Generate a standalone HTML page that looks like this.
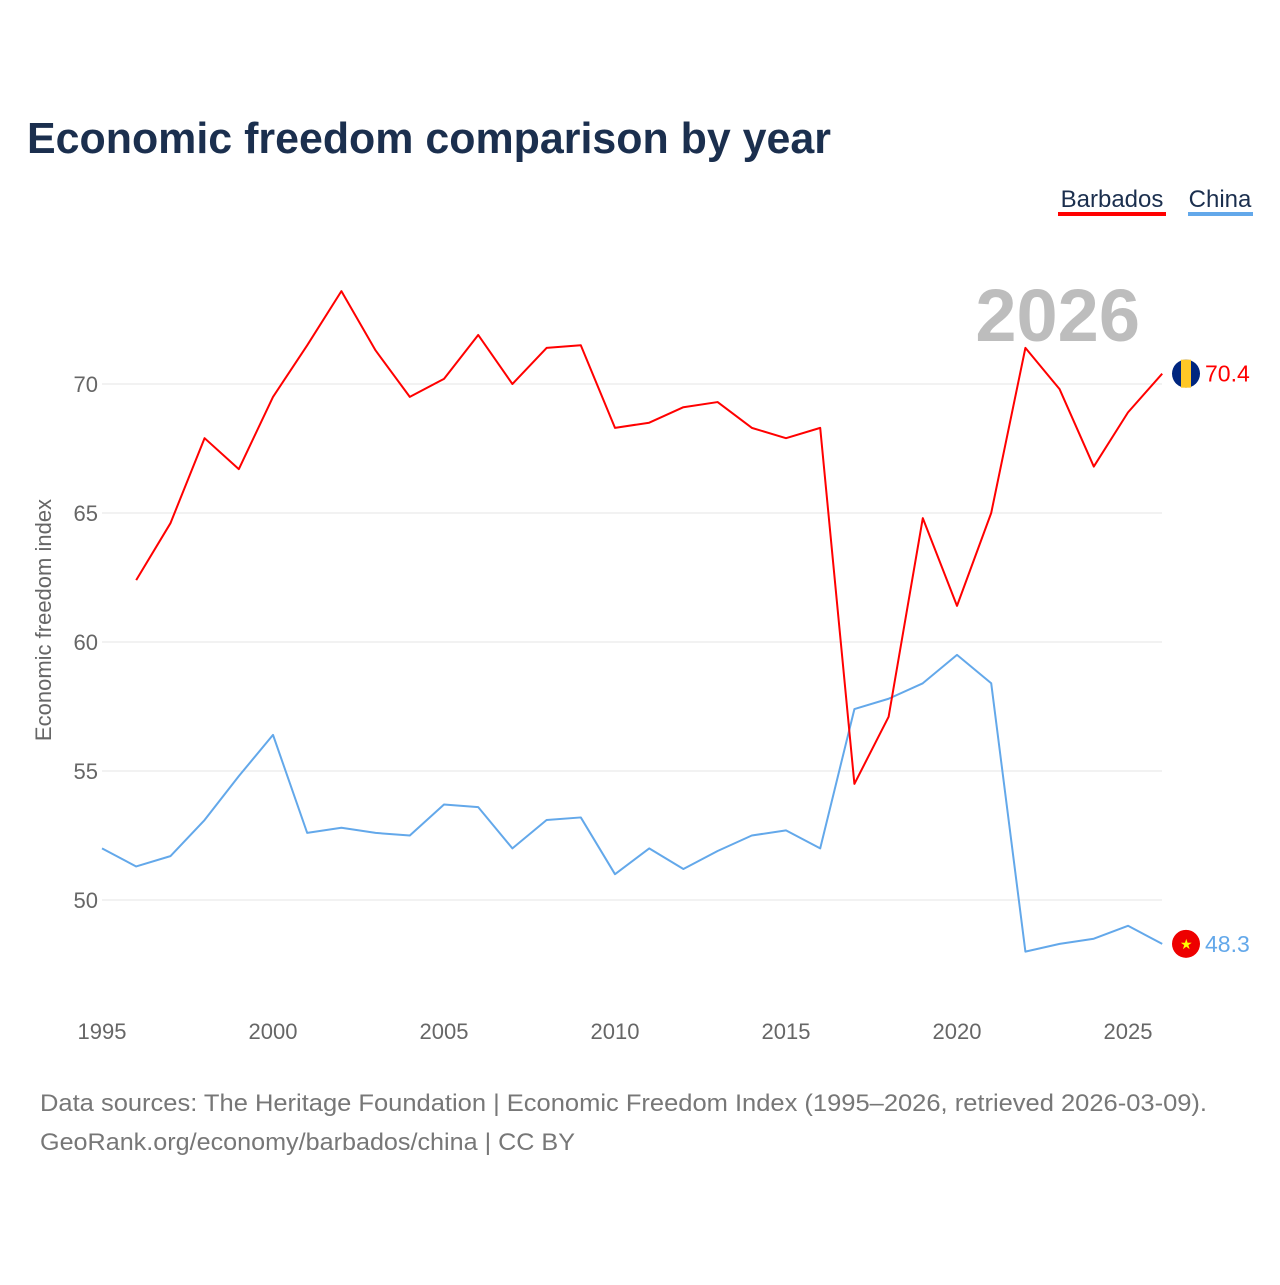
<!DOCTYPE html>
<html><head><meta charset="utf-8"><style>
body{margin:0;background:#fff;font-family:"Liberation Sans",sans-serif}
svg text{font-family:"Liberation Sans",sans-serif}
</style></head><body>
<svg id="chart" width="1280" height="1280" viewBox="0 0 1280 1280">
<text x="27" y="153" font-size="44" font-weight="bold" fill="#1b2f4e" textLength="804" lengthAdjust="spacingAndGlyphs">Economic freedom comparison by year</text>
<g>
<text x="1112" y="207" font-size="24" fill="#1b2f4e" text-anchor="middle">Barbados</text>
<rect x="1058" y="212" width="108" height="4" fill="#f00"/>
<text x="1220" y="207" font-size="24" fill="#1b2f4e" text-anchor="middle">China</text>
<rect x="1188" y="212" width="65" height="4" fill="#63a8ea"/>
</g>
<text x="1140" y="341" font-size="74" font-weight="bold" fill="#bdbdbd" text-anchor="end">2026</text>
<text transform="translate(51,620) rotate(-90)" font-size="22" fill="#666" text-anchor="middle">Economic freedom index</text>
<g id="grid"></g><g id="xt"></g><g id="lines"></g>
<text x="40" y="1111" font-size="24" fill="#777" textLength="1167" lengthAdjust="spacingAndGlyphs">Data sources: The Heritage Foundation | Economic Freedom Index (1995–2026, retrieved 2026-03-09).</text>
<text x="40" y="1150" font-size="24" fill="#777" textLength="535" lengthAdjust="spacingAndGlyphs">GeoRank.org/economy/barbados/china | CC BY</text>
</svg>
<script>
const yTicks=[50,55,60,65,70];
const xTicks=[1995,2000,2005,2010,2015,2020,2025];
const barbadosYears=[1996,1997,1998,1999,2000,2001,2002,2003,2004,2005,2006,2007,2008,2009,2010,2011,2012,2013,2014,2015,2016,2017,2018,2019,2020,2021,2022,2023,2024,2025,2026];
const barbadosValues=[62.4,64.6,67.9,66.7,69.5,71.5,73.6,71.3,69.5,70.2,71.9,70.0,71.4,71.5,68.3,68.5,69.1,69.3,68.3,67.9,68.3,54.5,57.1,64.8,61.4,65.0,71.4,69.8,66.8,68.9,70.4];
const chinaYears=[1995,1996,1997,1998,1999,2000,2001,2002,2003,2004,2005,2006,2007,2008,2009,2010,2011,2012,2013,2014,2015,2016,2017,2018,2019,2020,2021,2022,2023,2024,2025,2026];
const chinaValues=[52.0,51.3,51.7,53.1,54.8,56.4,52.6,52.8,52.6,52.5,53.7,53.6,52.0,53.1,53.2,51.0,52.0,51.2,51.9,52.5,52.7,52.0,57.4,57.8,58.4,59.5,58.4,48.0,48.3,48.5,49.0,48.3];
const X=y=>102+(y-1995)*34.2, Y=v=>900-(v-50)*25.8;
const NS='http://www.w3.org/2000/svg';
function mk(t,a,p){const e=document.createElementNS(NS,t);for(const k in a)e.setAttribute(k,a[k]);p.appendChild(e);return e;}
const g=document.getElementById('grid');
yTicks.forEach(v=>{
 const l=mk('line',{x1:102,x2:1162,y1:Y(v),y2:Y(v),stroke:'#e6e6e6','stroke-width':1},g);
 
 
 const t=mk('text',{x:98,y:Y(v)+8,'font-size':22,fill:'#666','text-anchor':'end'},g);t.textContent=v;
 
 
});
const xt=document.getElementById('xt');
xTicks.forEach(v=>{
 const t=mk('text',{x:X(v),y:1039,'font-size':22,fill:'#666','text-anchor':'middle'},xt);t.textContent=v;
 
 
});
const L=document.getElementById('lines');
function series(ys,vs,c,name){
 const p=mk('polyline',{points:ys.map((y,i)=>X(y)+','+Y(vs[i])).join(' '),fill:'none',stroke:c,'stroke-width':2,'stroke-linejoin':'round'},L);
 
 
 const lv=vs[vs.length-1],ly=Y(lv);
 const f=mk('circle',{cx:1186,cy:ly,r:14,fill:name==='china'?'#e00':'#00267f'},L);
 
 
 if(name==='barbados'){const r=mk('rect',{x:1181,y:ly-14,width:10,height:28,fill:'#ffc726'},L);}
 else{const s=mk('text',{x:1180,y:ly+5,'font-size':14,fill:'#ff0'},L);s.textContent='★';}
 const t=mk('text',{x:1205,y:ly+8,'font-size':23,fill:c},L);t.textContent=lv.toFixed(1);
 
 
}
series(chinaYears,chinaValues,'#63a8ea','china');
series(barbadosYears,barbadosValues,'#f00','barbados');
</script>
</body></html>
